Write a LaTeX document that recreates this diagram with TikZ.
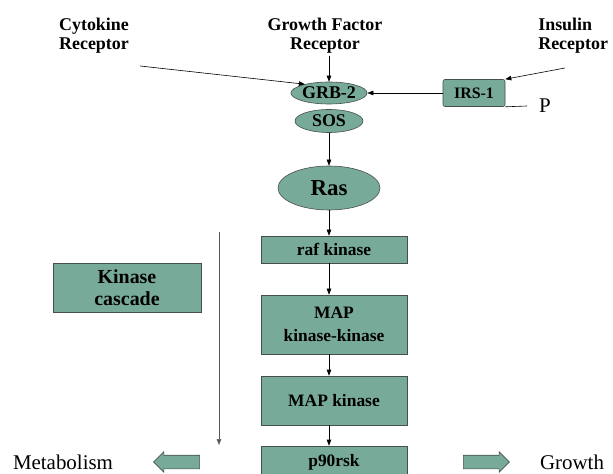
\documentclass[tikz,border=0pt]{standalone}
\usepackage{fontspec}
\setmainfont{Liberation Serif}
\usetikzlibrary{arrows.meta,shapes.geometric,shapes.arrows}
\definecolor{boxfill}{RGB}{120,170,154}
\definecolor{boxline}{RGB}{70,80,75}

\begin{document}
\begin{tikzpicture}[x=1bp,y=-1bp,line width=0.6bp,
  >={Triangle[length=6bp,width=4.5bp]},
  rcpt/.style={font=\bfseries\fontsize{18}{19}\selectfont,inner sep=0pt},
  prot/.style={ellipse,draw=boxline,fill=boxfill,inner sep=0pt,font=\bfseries\fontsize{18}{19}\selectfont},
  enz/.style={rectangle,draw=boxline,fill=boxfill,minimum width=146bp,inner sep=0pt,align=center,font=\bfseries\fontsize{17.5}{23}\selectfont},
  flow/.style={single arrow,draw=boxline,fill=boxfill,inner sep=6.5bp,minimum height=46bp,single arrow head extend=3.5bp},
  plain/.style={font=\fontsize{21}{24}\selectfont,inner sep=0pt}]
  \clip (0,0) rectangle (613,474);

  % receptors
  \node[rcpt,align=left] (cyto) at (94,36) {Cytokine\\Receptor};
  \node[rcpt,align=center] (gfr) at (325,36) {Growth Factor\\Receptor};
  \node[rcpt,align=left,anchor=west] (insr) at (538,36) {Insulin\\Receptor};
  \coordinate (cytotail) at (140,66);
  \coordinate (gftail) at (329,56);
  \coordinate (instail) at (565,68);

  % adaptors
  \node[prot,minimum width=74bp,minimum height=22bp] (grb) at (329,93) {GRB-2};
  \node[prot,minimum width=68bp,minimum height=23bp] (sos) at (329,121) {SOS};
  \node[prot,minimum width=102bp,minimum height=44bp,font=\bfseries\fontsize{23}{24}\selectfont] (ras) at (329,188) {Ras};
  \node[enz,rounded corners=2bp,minimum width=62bp,minimum height=27bp,font=\bfseries\fontsize{16}{18}\selectfont] (irs) at (474,93) {IRS-1};
  \node[plain] (p) at (545,106) {P};
  \coordinate (pend) at (527,106);

  % cascade
  \node[enz,minimum height=27bp] (raf) at (334,249.5) {raf kinase};
  \node[enz,minimum height=59bp] (mapkk) at (334,324.5) {MAP\\kinase-kinase};
  \node[enz,minimum height=49bp] (mapk) at (334,400.5) {MAP kinase};
  \node[enz,minimum height=32bp] (rsk) at (334,462) {p90rsk};
  \node[enz,minimum width=148bp,minimum height=49bp,font=\bfseries\fontsize{20}{22}\selectfont] (kc) at (127,287.5) {Kinase\\cascade};
  \coordinate (casctop) at (219,232);
  \coordinate (cascbot) at (219,445);

  % outputs
  \node[flow,shape border rotate=180] (metarr) at (180,462) {};
  \node[flow] (grarr) at (483,462) {};
  \node[plain] (metab) at (63,462) {Metabolism};
  \node[plain] (growth) at (572,462) {Growth};

  \draw[->] (cytotail) -- (grb.160);
  \draw[->] (gftail) -- (grb);
  \draw[->] (instail) -- (irs.north east);
  \draw[->] (irs) -- (grb);
  \draw (irs.south east) -- (pend);
  \draw[->] (sos) -- (ras);
  \draw[->] (ras) -- (raf.north -| ras);
  \draw[->] (raf.south -| ras) -- (mapkk.north -| ras);
  \draw[->] (mapkk.south -| ras) -- (mapk.north -| ras);
  \draw[->] (mapk.south -| ras) -- (rsk.north -| ras);
  \draw[->,draw=gray!70!black] (casctop) -- (cascbot);
\end{tikzpicture}
\end{document}
